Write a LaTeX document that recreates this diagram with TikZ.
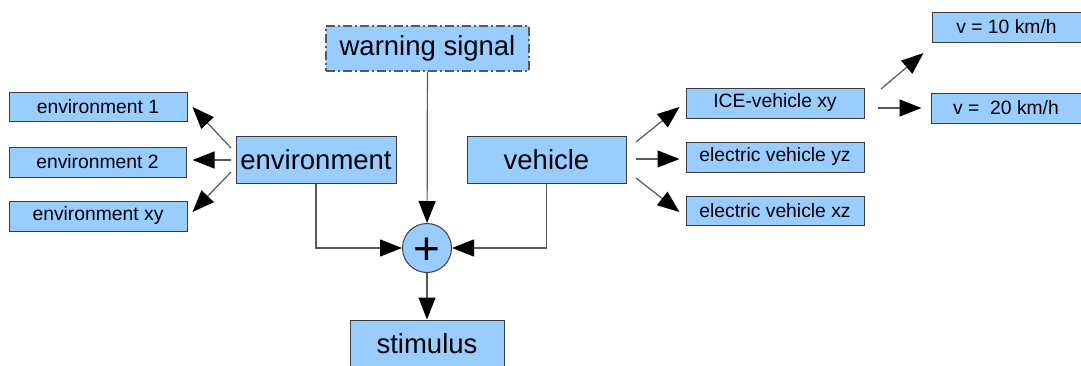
\documentclass[tikz,border=0pt]{standalone}
\usepackage{fontspec}
\setmainfont{Liberation Sans}
\usetikzlibrary{arrows.meta,calc}
\definecolor{boxblue}{RGB}{153,204,255}
\definecolor{edgegray}{RGB}{60,60,60}
\tikzset{
  box/.style={draw=edgegray, fill=boxblue, line width=1pt, inner sep=0pt, anchor=center},
  small/.style={box, font=\fontsize{19.3}{22}\selectfont},
  large/.style={box, font=\fontsize{27.5}{30}\selectfont},
  conn/.style={draw=black!65, line width=1.2pt, -{Triangle[length=22pt,width=17pt,fill=black,color=black]}},
}
\begin{document}
\begin{tikzpicture}[x=1pt,y=-1pt]
\useasboundingbox (0,0) rectangle (1081,365);
% nodes
\node[large, minimum width=203pt, minimum height=45pt, draw=black!65, line width=1.3pt, dash pattern=on 9pt off 3pt on 2pt off 3pt] (warn) at (427.5,48.5) {\raisebox{-1.5pt}{warning signal}};
\node[small, minimum width=178pt, minimum height=29pt] (env1) at (98,106.5) {environment 1};
\node[small, minimum width=177pt, minimum height=30pt] (env2) at (97.5,162) {environment 2};
\node[small, minimum width=178pt, minimum height=30pt] (envxy) at (98,216) {environment xy};
\node[large, minimum width=160pt, minimum height=47pt] (env) at (316,159.5) {environment};
\node[large, minimum width=159pt, minimum height=47pt] (veh) at (546.5,159.5) {vehicle};
\node[small, minimum width=178pt, minimum height=30pt] (ice) at (775,103) {ICE-vehicle xy};
\node[small, minimum width=178pt, minimum height=30pt] (evyz) at (775,157) {electric vehicle yz};
\node[small, minimum width=178pt, minimum height=29pt] (evxz) at (775,210.5) {electric vehicle xz};
\node[small, minimum width=149pt, minimum height=30pt] (v10) at (1006.5,27) {v = 10 km/h};
\node[small, minimum width=150pt, minimum height=30pt] (v20) at (1006,108) {v =\ \ 20 km/h};
\node[box, circle, minimum size=49pt] (sum) at (427,248) {};
\node[anchor=base, inner sep=0pt, font=\fontsize{46}{46}\selectfont] (plus) at (427,264) {+};
\node[large, minimum width=154pt, minimum height=47pt] (stim) at (427,343.5) {stimulus};
% free ends
\coordinate (e1s) at (231,148);
\coordinate (e2s) at (231,160);
\coordinate (e3s) at (231,172);
\coordinate (v1s) at (636,142);
\coordinate (v2s) at (636,159);
\coordinate (v3s) at (636,178);
\coordinate (i1s) at (881,89);
\coordinate (i2s) at (878,108);
% connectors
\draw[conn] (warn) -- (sum);
\draw[conn] (env.south) |- (sum.west);
\draw[conn] (veh.south) |- (sum.east);
\draw[conn] (sum) -- (stim);
\draw[conn] (e1s) -- ($(env1.east)+(5,0.5)$);
\draw[conn] (e2s) -- ($(env2.east)+(6,-2)$);
\draw[conn] (e3s) -- ($(envxy.east)+(5,-4)$);
\draw[conn] (v1s) -- ($(ice.west)+(-6,4)$);
\draw[conn] (v2s) -- ($(evyz.west)+(-6,2)$);
\draw[conn] (v3s) -- ($(evxz.west)+(-6,1.5)$);
\draw[conn] (i1s) -- ($(v10.west)+(-8,26)$);
\draw[conn] (i2s) -- ($(v20.west)+(-9,0)$);
\end{tikzpicture}
\end{document}
